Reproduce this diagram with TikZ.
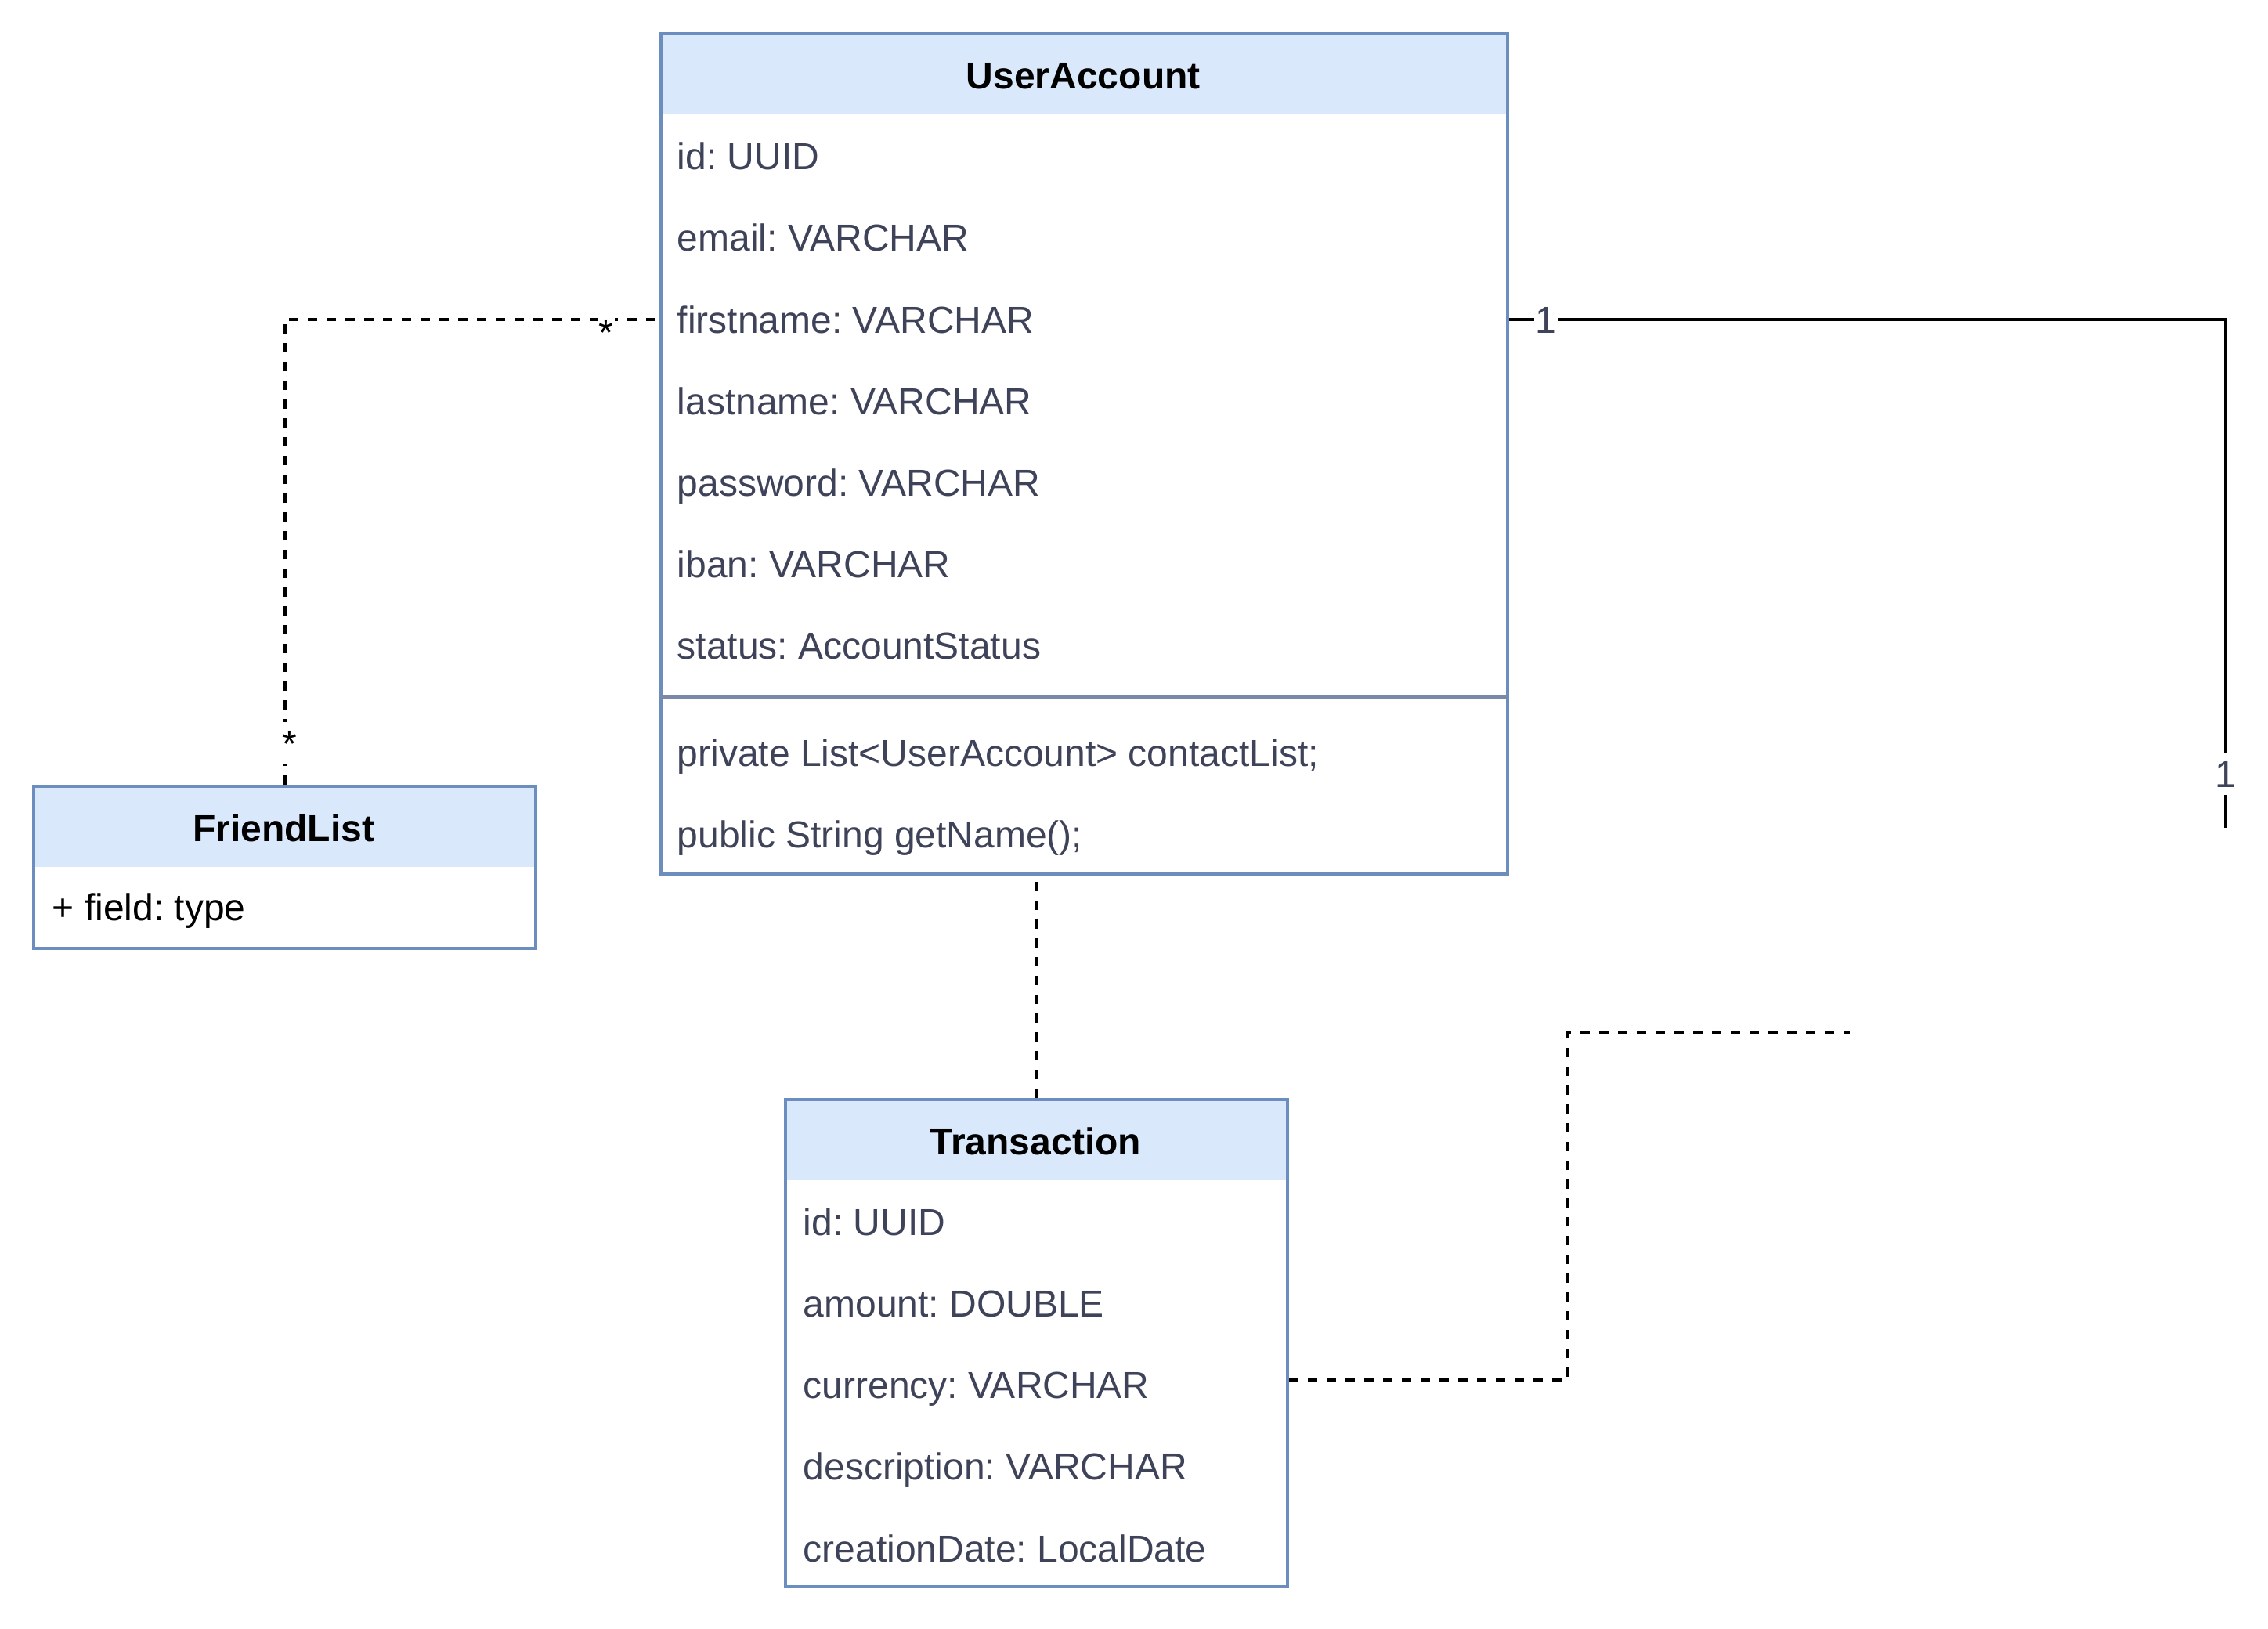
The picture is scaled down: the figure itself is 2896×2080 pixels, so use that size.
\documentclass[tikz,border=0pt]{standalone}
\usepackage{fontspec}
\setmainfont{Liberation Sans}
\definecolor{umlline}{HTML}{6C8EBF}
\definecolor{umlfill}{HTML}{DAE8FC}
\definecolor{umltext}{HTML}{3F4359}
\definecolor{umlsep}{HTML}{788AA8}
\frenchspacing
\begin{document}
\begin{tikzpicture}[
            x=0.25pt, y=-0.25pt,
            every node/.style = {font=\fontsize{12pt}{14pt}\selectfont},
            classhead/.style = {anchor=north west, fill=umlfill, inner sep=0pt, minimum height=26pt, text height=9.7pt, text depth=0pt, font=\fontsize{12pt}{14pt}\selectfont\bfseries},
            classframe/.style = {anchor=north west, draw=umlline, line width=1pt, inner sep=0pt},
            attr/.style = {anchor=west, inner sep=0pt, text height=8.6pt, text depth=0pt, text=umltext},
            mult/.style = {fill=white, inner xsep=0.3pt, inner ysep=2.5pt, text height=8.6pt, text depth=0pt},
            dep/.style = {draw, line width=1pt, dashed},
            assoc/.style = {draw, line width=1pt}
        ]

        \useasboundingbox (0,0) rectangle (2896,2080);

        % UserAccount
        \node[classhead, minimum width=270.25pt] (ua-head) at (842,41) {UserAccount};
        \node[classframe, minimum width=270.25pt, minimum height=268.25pt] (ua) at (842,41) {};
        \foreach \txt [count=\i] in {id: UUID, email: VARCHAR, firstname: VARCHAR, lastname: VARCHAR, password: VARCHAR, iban: VARCHAR, status: AccountStatus}
            \node[attr] (ua-r\i) at (864,{95.3+104.2*\i}) {\txt};
        \coordinate (ua-sep) at (842,890);
        \draw[umlsep, line width=1pt] (ua-sep) -- (ua-sep -| ua.east);
        \node[attr] (ua-m1) at (864,961) {private List<UserAccount> contactList;};
        \node[attr] (ua-m2) at (864,1065) {public String getName();};

        % FriendList
        \node[classhead, minimum width=160.25pt] (fl-head) at (41,1002) {FriendList};
        \node[classframe, minimum width=160.25pt, minimum height=51.75pt] (fl) at (41,1002) {};
        \node[attr, text=black] (fl-r1) at (66,1158) {+ field: type};

        % Transaction
        \node[classhead, minimum width=160.25pt] (tr-head) at (1001,1402) {Transaction};
        \node[classframe, minimum width=160.25pt, minimum height=155.5pt] (tr) at (1001,1402) {};
        \foreach \txt [count=\i] in {id: UUID, amount: DOUBLE, currency: VARCHAR, description: VARCHAR, creationDate: LocalDate}
            \node[attr] (tr-r\i) at (1025,{1455.8+104.2*\i}) {\txt};

        % connectors
        \draw[dep] (fl.north) |- (ua-r3 -| ua.west);
        \node[mult] (fl-m1) at (774,424) {*};
        \node[mult] (fl-m2) at (370,949) {*};

        \coordinate (ua-end) at (2842,1057);
        \draw[assoc] (ua-r3 -| ua.east) -| (ua-end);
        \node[mult, text=umltext] (ua-m3) at (1974,408) {1};
        \node[mult, text=umltext] (ua-m4) at (2842,988) {1};

        \draw[dep] (tr.north) -- (tr.north |- ua.south);

        \coordinate (tr-bend) at (2002,1318);
        \coordinate (tr-end) at (2362,1318);
        \draw[dep] (tr.east |- 0,1762) -| (tr-bend) -- (tr-end);

    \end{tikzpicture}
\end{document}
